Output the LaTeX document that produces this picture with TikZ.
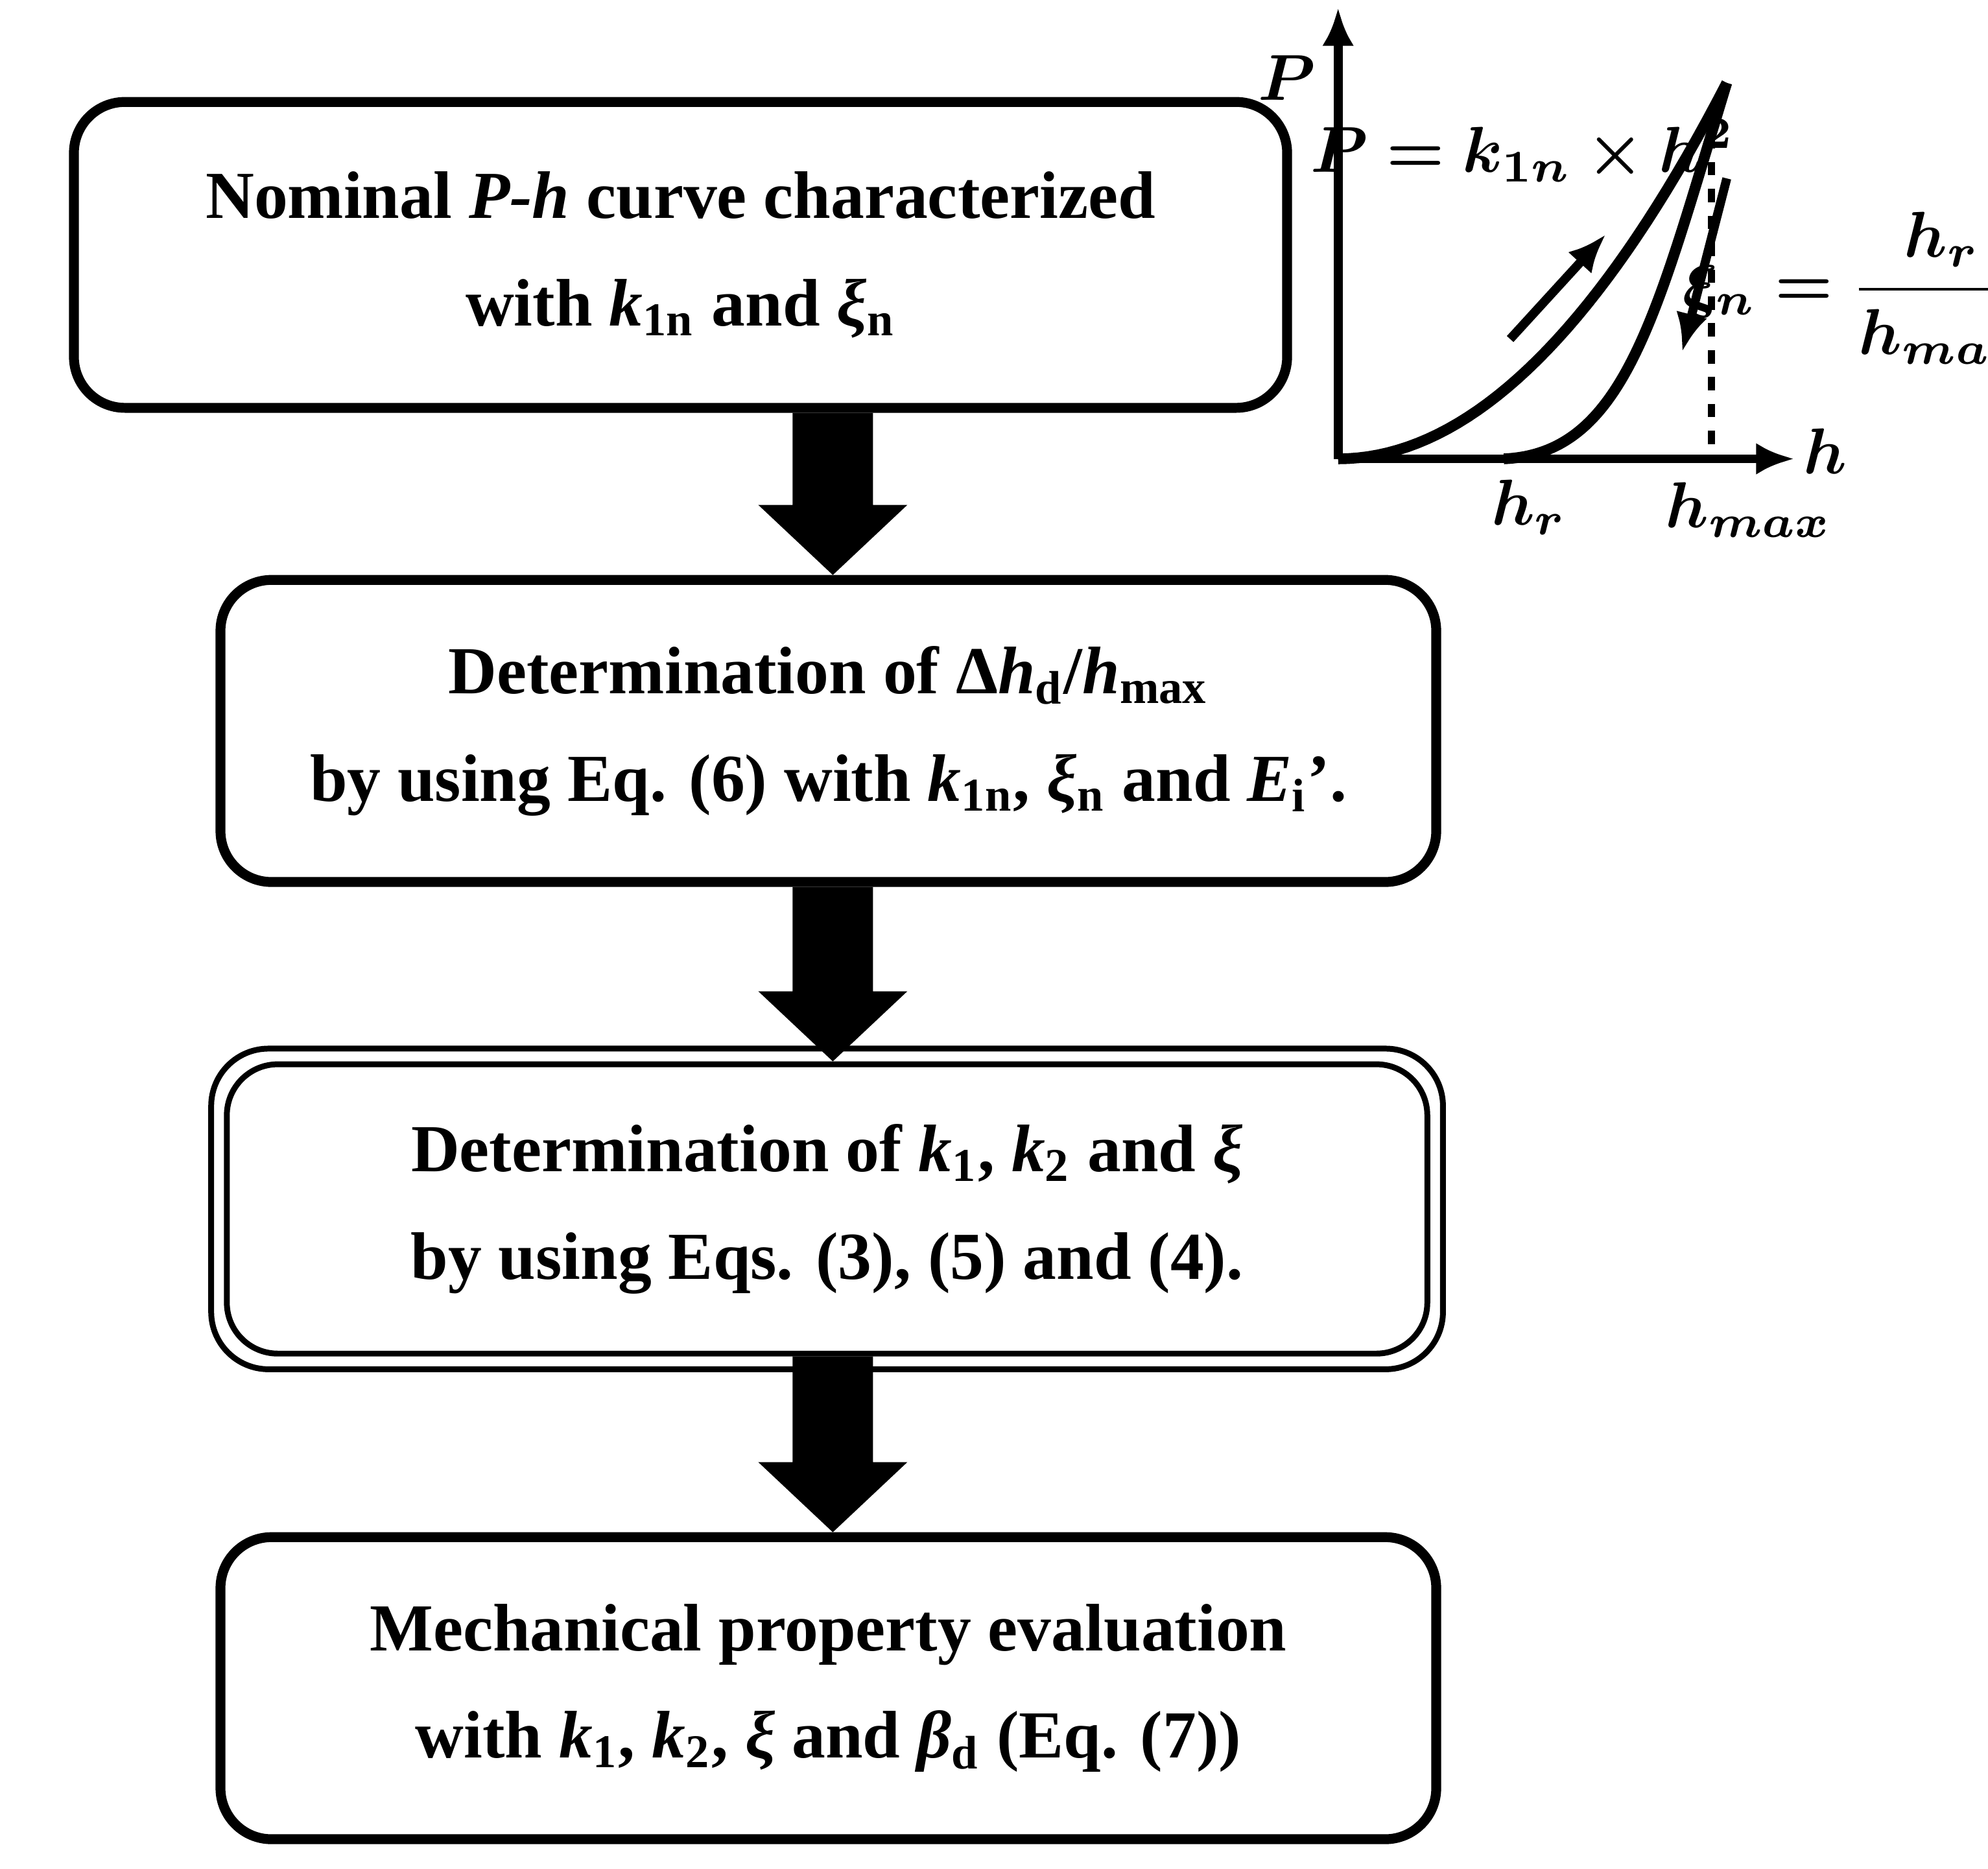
\documentclass[tikz,border=0pt]{standalone}
\usepackage{fontspec}
\setmainfont{Liberation Serif}
\usepackage{amsmath,bm}
\usetikzlibrary{calc,arrows.meta}
\newcommand{\sbs}[1]{\textsubscript{\normalfont\bfseries #1}}
\begin{document}
\begin{tikzpicture}[x=1cm,y=1cm,
  box/.style={draw,line width=2.2pt,rounded corners=0.4cm,minimum width=9.54cm,minimum height=2.37cm,align=center,font=\bfseries\fontsize{15}{24}\selectfont},
  blk/.style={fill=black},
  lab/.style={scale=1.45,inner sep=1pt},
  ar/.style={line width=2pt,-{Latex[length=0.3cm,width=0.25cm]}}]
\useasboundingbox (0,0) rectangle (15.6,14.66);
\node[box,minimum width=9.52cm,minimum height=2.4cm] (b1) at (5.34,12.66) {Nominal \textit{P-h} curve characterized\\with \textit{k}\sbs{1n} and \textit{ξ}\sbs{n}};
\node[box] (b2) at (6.5,8.925) {Determination of Δ\textit{h}\sbs{d}/\textit{h}\sbs{max}\\by using Eq. (6) with \textit{k}\sbs{1n}, \textit{ξ}\sbs{n} and \textit{E}\sbs{i}’.};
\node[box,line width=1.3pt,minimum width=9.42cm,minimum height=2.27cm] (b3) at (6.49,5.175) {Determination of \textit{k}\sbs{1}, \textit{k}\sbs{2} and \textit{ξ}\\by using Eqs. (3), (5) and (4).};
\draw[line width=1.3pt,rounded corners=0.45cm] ($(b3.south west)+(-0.1,-0.1)$) rectangle ($(b3.north east)+(0.1,0.1)$);
\node[box] (b4) at (6.5,1.415) {Mechanical property evaluation\\with \textit{k}\sbs{1}, \textit{k}\sbs{2}, \textit{ξ} and \textit{β}\sbs{d} (Eq. (7))};
\foreach \a/\b/\cx in {b1/b2/6.535,b2/b3/6.535,b3/b4/6.535}{
  \path let \p1=(\a.south), \p2=(\b.north) in
    coordinate (t1) at (\cx,\y1) coordinate (t2) at (\cx,\y2);
  \fill[blk] let \p1=(t1), \p2=(t2) in
    (\cx-0.315,\y1) -- (\cx+0.315,\y1) -- (\cx+0.315,\y2+0.55cm) -- (\cx+0.585,\y2+0.55cm)
    -- (\cx,\y2) -- (\cx-0.585,\y2+0.55cm) -- (\cx-0.315,\y2+0.55cm) -- cycle;
}
% graph
\coordinate (O) at (10.5,11.06);
\coordinate (Ytop) at (10.5,14.6);
\coordinate (Xend) at (14.08,11.06);
\draw[ar] (O) -- (Ytop);
\draw[ar] (O) -- (Xend);
\draw[line width=2.4pt] plot[domain=0:3.05,samples=40] ({10.5+\x},{11.06+2.95*(\x/3.05)^2});
\coordinate (pk) at (13.55,14.01);
\draw[line width=2.4pt] (pk) .. controls (13.0,12.2) and (12.75,11.1) .. (11.8,11.06);
\draw[line width=1.5pt,dashed] (13.43,13.6) -- (13.43,11.06);
\coordinate (u1) at (11.85,12.0); \coordinate (u2) at (12.6,12.82);
\coordinate (d1) at (13.55,13.26); \coordinate (d2) at (13.2,11.9);
\draw[ar] (u1) -- (u2);
\draw[ar] (d1) -- (d2);
\node[lab] (lP) at (10.1,14.05) {$\bm{P}$};
\node[lab] (lh) at (14.32,11.12) {$\bm{h}$};
\node[lab] (lhr) at (12.0,10.68) {$\bm{h_r}$};
\node[lab] (lhm) at (13.72,10.66) {$\bm{h_{max}}$};
\node[lab] (eq1) at (11.95,13.48) {$\bm{P=k_{1n}\times h^2}$};
\node[lab] (eq2) at (14.58,12.4) {$\bm{\xi_n=\dfrac{h_r}{h_{max}}}$};
\end{tikzpicture}
\end{document}
